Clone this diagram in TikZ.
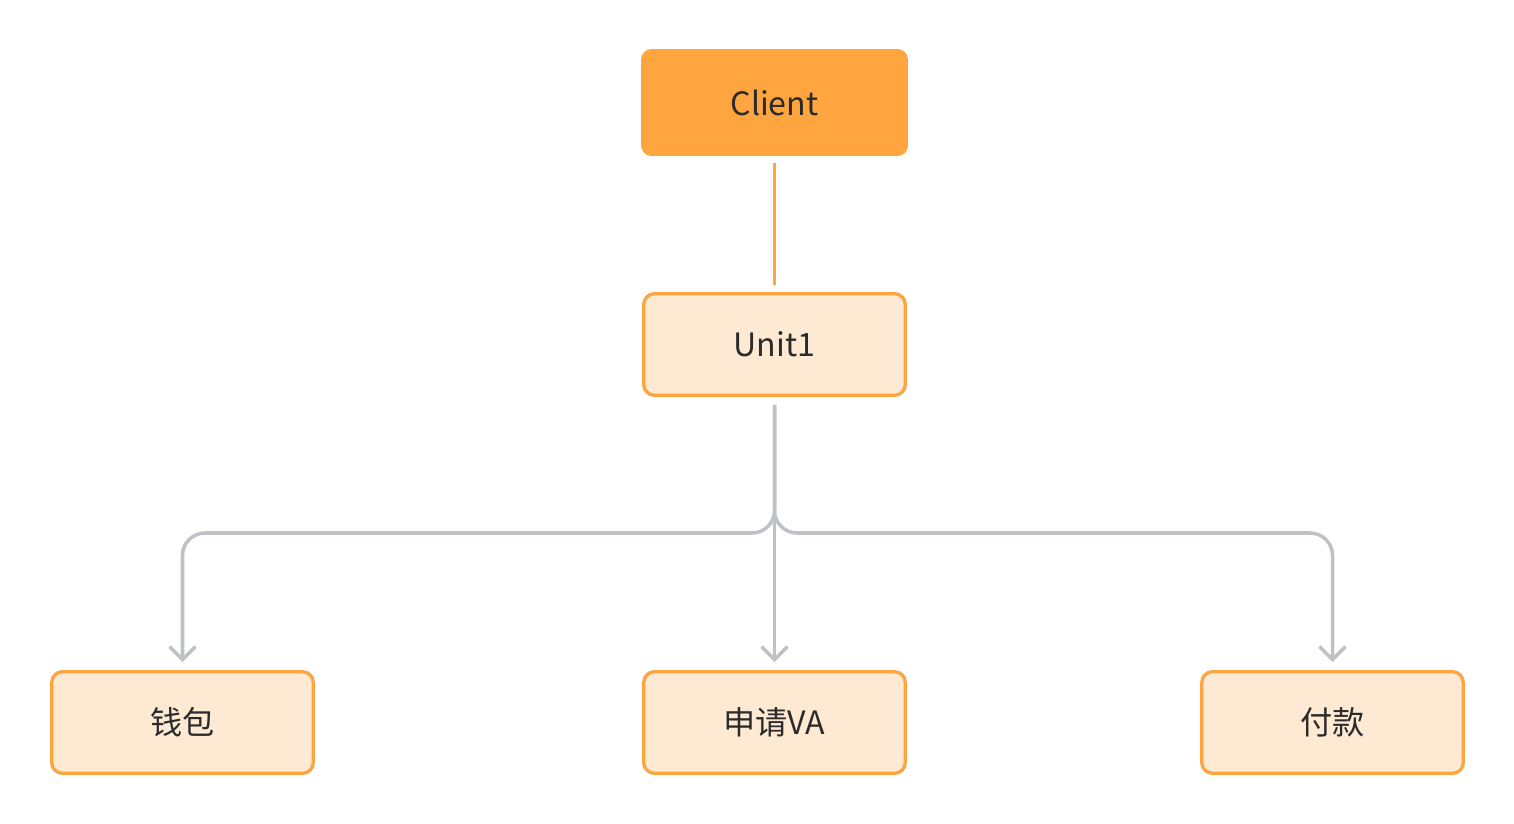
\documentclass[tikz,border=0pt]{standalone}
\usepackage{fontspec}
\setmainfont{Noto Sans CJK SC}
\usetikzlibrary{arrows.meta}
\definecolor{clientfill}{HTML}{FFA53F}
\definecolor{boxfill}{HTML}{FEE9D3}
\definecolor{linkgrey}{HTML}{BFC1C6}
\definecolor{textdark}{HTML}{2B2B2B}
\begin{document}
\begin{tikzpicture}[
    x=0.02cm, y=-0.02cm,
    every node/.style={font=\fontsize{18.3}{20}\selectfont, text=textdark, align=center},
    client/.style={rectangle, fill=clientfill, rounded corners=6pt, minimum width=5.34cm, minimum height=2.14cm, inner sep=0pt},
    unit/.style={rectangle, draw=clientfill, fill=boxfill, line width=1.9pt, rounded corners=6pt, minimum width=5.23cm, minimum height=2.03cm, inner sep=0pt},
    tie/.style={clientfill, line width=1.9pt, shorten <=0.14cm, shorten >=0.14cm},
    link/.style={-{Straight Barb[length=0.26cm, width=0.52cm, line width=2pt]}, linkgrey, line width=2pt, rounded corners=0.45cm, shorten <=0.16cm, shorten >=0.16cm}
]
\useasboundingbox (0,0) rectangle (1514,824);
\node[client] (client) at (774.5, 102.5) {Client};
\node[unit] (unit1)  at (774.5, 344.5) {Unit1};
\node[unit] (wallet) at (182.5, 722.5) {钱包};
\node[unit] (va)     at (774.5, 722.5) {申请VA};
\node[unit] (pay)    at (1332.5, 722.5) {付款};
\coordinate (split) at (774.5, 533);
\draw[tie] (client.south) -- (unit1.north);
\draw[link] (unit1.south) -- (split) -| (wallet.north);
\draw[link] (unit1.south) -- (va.north);
\draw[link] (unit1.south) -- (split) -| (pay.north);
\end{tikzpicture}
\end{document}
